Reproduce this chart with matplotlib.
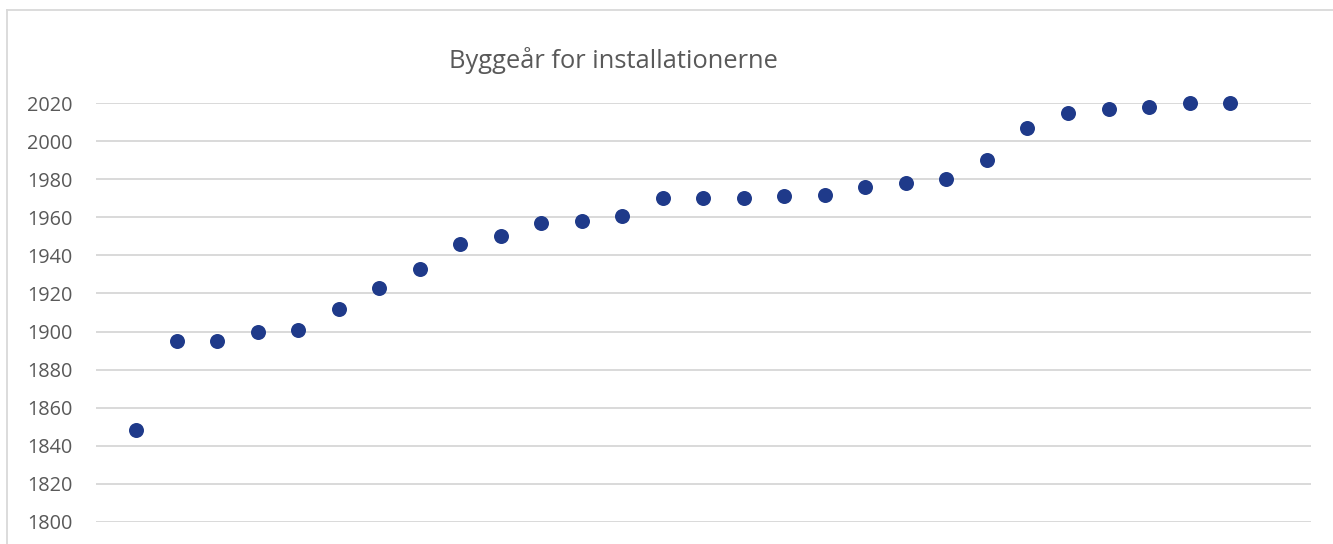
import matplotlib.pyplot as plt
from matplotlib.lines import Line2D

# installation number (1..28) and year of construction
installations = list(range(1, 29))
build_years = [1848, 1895, 1895, 1900, 1901, 1912, 1923, 1933, 1946, 1950,
               1957, 1958, 1961, 1970, 1970, 1970, 1971, 1972, 1976, 1978,
               1980, 1990, 2007, 2015, 2017, 2018, 2020, 2020]
y_ticks = list(range(1800, 2021, 20))
title = "Byggeår for installationerne"

text_color = "#595959"
grid_color = "#D9D9D9"
marker_color = "#1F3A8A"

plt.rcParams["font.family"] = ["Open Sans", "DejaVu Sans"]

fig = plt.figure(figsize=(13.33, 5.44), dpi=100)
ax = fig.add_axes([0.0720, 0.0410, 0.9115, 0.7691])

ax.plot(installations, build_years, linestyle="none", marker="o",
        markersize=10.8, color=marker_color, markeredgewidth=0,
        clip_on=False, zorder=3)

ax.set_xlim(0, 30)
ax.set_ylim(1800, 2020)
ax.set_yticks(y_ticks)
ax.set_xticks([])
ax.tick_params(axis="y", length=0, pad=17, labelsize=14.3, labelcolor=text_color)
ax.grid(axis="y", color=grid_color, linewidth=1.4)
ax.set_axisbelow(True)
for s in ax.spines.values():
    s.set_visible(False)

fig.text(613 / 1333, 1 - 60 / 544, title, ha="center", va="center",
         fontsize=18.4, color=text_color)

# chart area border (top and left edges visible)
fig.add_artist(Line2D([7 / 1333, 1.0], [1 - 10 / 544, 1 - 10 / 544],
                      transform=fig.transFigure, color=grid_color, linewidth=1.3))
fig.add_artist(Line2D([7 / 1333, 7 / 1333], [0.0, 1 - 10 / 544],
                      transform=fig.transFigure, color=grid_color, linewidth=1.3))

fig.savefig("out.png", dpi=100)
